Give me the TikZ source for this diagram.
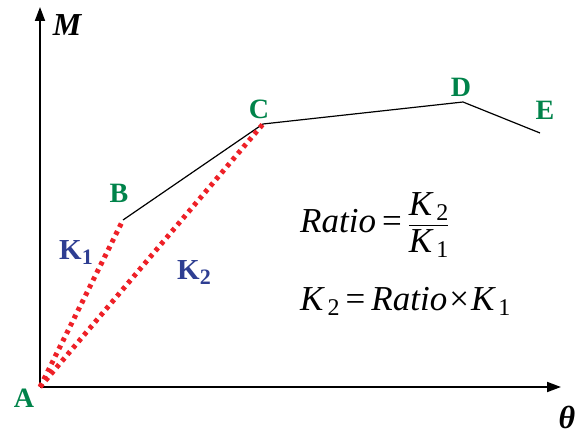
\documentclass[tikz,border=0pt]{standalone}
\usepackage{amsmath}
\usepackage{fontspec}
\setmainfont{Liberation Serif}
\usetikzlibrary{arrows.meta}
\definecolor{ptgreen}{HTML}{00834A}
\definecolor{kblue}{HTML}{2E3E92}
\definecolor{dotred}{HTML}{EE2027}

\newcommand{\subdig}[1]{\raisebox{-5pt}{\fontsize{24}{26}\selectfont #1}}
\newcommand{\txtop}[2]{\mbox{\hspace{#2}#1\hspace{#2}}}

\tikzset{
  axis/.style={line width=1.8pt, -{Triangle[length=14pt, width=10pt]}},
  curve/.style={line width=1.2pt},
  secant/.style={dotred, line width=5pt, dash pattern=on 4pt off 4.5pt},
  ptlabel/.style={text=ptgreen, font=\fontsize{28}{30}\selectfont\bfseries, inner sep=0pt},
  klabel/.style={text=kblue, font=\fontsize{29}{30}\selectfont\bfseries, inner sep=0pt},
  formula/.style={font=\fontsize{35}{38}\selectfont, inner sep=0pt}
}

\begin{document}
\begin{tikzpicture}[x=1pt, y=1pt]
\useasboundingbox (0,0) rectangle (583,437);

% points of the curve
\coordinate (A) at (40,50);
\coordinate (B) at (123,217);
\coordinate (C) at (263,313);
\coordinate (D) at (463,335);
\coordinate (E) at (540,304);
\coordinate (ytop) at (40,430);
\coordinate (xend) at (561,50);

% axes
\draw[axis] (A) -- (ytop);
\draw[axis] (A) -- (xend);
\node[font=\fontsize{32}{34}\selectfont\bfseries\itshape, inner sep=0pt] (mlab) at (67,412) {M};
\node[font=\fontsize{32}{34}\selectfont\bfseries\itshape, inner sep=0pt] (thlab) at (567,20) {θ};

% moment-rotation curve
\draw[curve] (B) -- (C) -- (D) -- (E);

% stiffness lines
\draw[secant] (A) -- (B);
\draw[secant] (A) -- (C);

% labels
\node[ptlabel] (alab) at (24,39) {A};
\node[ptlabel] (blab) at (119,244) {B};
\node[ptlabel] (clab) at (259,328) {C};
\node[ptlabel] (dlab) at (461,350) {D};
\node[ptlabel] (elab) at (545,327) {E};
\node[klabel] (k1) at (76,184) {K\raisebox{-5pt}{\fontsize{22}{24}\selectfont 1}};
\node[klabel] (k2) at (194,164) {K\raisebox{-5pt}{\fontsize{22}{24}\selectfont 2}};

% formulas
\node[formula, anchor=base west] (ratio) at (300,205)
  {$\textit{Ratio}\txtop{=}{6pt}\dfrac{\textit{K}\,\subdig{2}}{\textit{K}\,\subdig{1}}$};
\node[formula, anchor=base west] (kform) at (300,127)
  {$\textit{K}\,\subdig{2}\txtop{=}{6pt}\textit{Ratio}\txtop{×}{2pt}\textit{K}\,\subdig{1}$};
\end{tikzpicture}
\end{document}
